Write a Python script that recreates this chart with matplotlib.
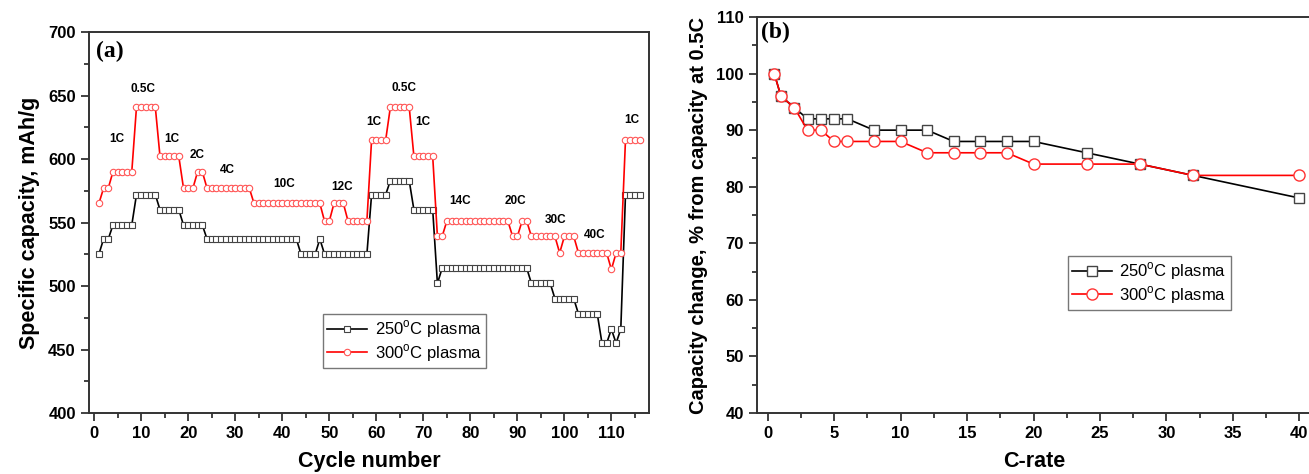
import numpy as np
from matplotlib import pyplot as plt
from matplotlib.ticker import MultipleLocator

plt.rcParams['font.family'] = ['Liberation Sans', 'DejaVu Sans']
plt.rcParams['mathtext.fontset'] = 'custom'
plt.rcParams['mathtext.rm'] = 'Liberation Sans'

# ---- data: panel (a), specific capacity vs cycle number ----
cycles = np.arange(1, 117)
cap_250 = [525, 537, 537, 548, 548, 548, 548, 548, 572, 572,
           572, 572, 572, 560, 560, 560, 560, 560, 548, 548,
           548, 548, 548, 537, 537, 537, 537, 537, 537, 537,
           537, 537, 537, 537, 537, 537, 537, 537, 537, 537,
           537, 537, 537, 525, 525, 525, 525, 537, 525, 525,
           525, 525, 525, 525, 525, 525, 525, 525, 572, 572,
           572, 572, 583, 583, 583, 583, 583, 560, 560, 560,
           560, 560, 502, 514, 514, 514, 514, 514, 514, 514,
           514, 514, 514, 514, 514, 514, 514, 514, 514, 514,
           514, 514, 502, 502, 502, 502, 502, 490, 490, 490,
           490, 490, 478, 478, 478, 478, 478, 455, 455, 466,
           455, 466, 572, 572, 572, 572]
cap_300 = [565, 577, 577, 590, 590, 590, 590, 590, 641, 641,
           641, 641, 641, 602, 602, 602, 602, 602, 577, 577,
           577, 590, 590, 577, 577, 577, 577, 577, 577, 577,
           577, 577, 577, 565, 565, 565, 565, 565, 565, 565,
           565, 565, 565, 565, 565, 565, 565, 565, 551, 551,
           565, 565, 565, 551, 551, 551, 551, 551, 615, 615,
           615, 615, 641, 641, 641, 641, 641, 602, 602, 602,
           602, 602, 539, 539, 551, 551, 551, 551, 551, 551,
           551, 551, 551, 551, 551, 551, 551, 551, 539, 539,
           551, 551, 539, 539, 539, 539, 539, 539, 526, 539,
           539, 539, 526, 526, 526, 526, 526, 526, 526, 513,
           526, 526, 615, 615, 615, 615]

# rate labels in panel (a): text, cycle, capacity
rate_labels = [('1C', 4.8, 616), ('0.5C', 10.4, 655), ('1C', 16.5, 616),
               ('2C', 21.9, 603), ('4C', 28.3, 591), ('10C', 40.4, 580),
               ('12C', 52.8, 578), ('1C', 59.5, 629), ('0.5C', 65.9, 656),
               ('1C', 70.0, 629), ('14C', 77.8, 567), ('20C', 89.5, 567),
               ('30C', 98.2, 552), ('40C', 106.5, 540), ('1C', 114.3, 631)]

# ---- data: panel (b), capacity change vs C-rate ----
c_rate = [0.5, 1, 2, 3, 4, 5, 6, 8, 10, 12, 14, 16, 18, 20, 24, 28, 32, 40]
change_250 = [100, 96, 94, 92, 92, 92, 92, 90, 90, 90, 88, 88, 88, 88, 86, 84, 82, 78]
change_300 = [100, 96, 94, 90, 90, 88, 88, 88, 88, 86, 86, 86, 86, 84, 84, 84, 82, 82]

W, H = 1309, 474
fig = plt.figure(figsize=(W / 100, H / 100), dpi=100)
ax1 = fig.add_axes([89 / W, 61 / H, 560 / W, 381 / H])
ax2 = fig.add_axes([757 / W, 61 / H, 555 / W, 396 / H])

spine_col = '#333333'


def style_axis(ax):
    for s in ax.spines.values():
        s.set_linewidth(1.4)
        s.set_color(spine_col)
    ax.tick_params(which='both', direction='out', color=spine_col, width=1.3,
                   top=False, right=False)
    ax.tick_params(which='major', length=6, labelsize=12)
    ax.tick_params(which='minor', length=3.5)
    for lab in ax.get_xticklabels() + ax.get_yticklabels():
        lab.set_fontweight('bold')


def add_legend(ax, anchor):
    leg = ax.legend(loc='lower left', bbox_to_anchor=anchor, fontsize=12,
                    frameon=True, fancybox=False, edgecolor='#555555',
                    handlelength=2.4, borderpad=0.25, labelspacing=0.12,
                    handletextpad=0.45, borderaxespad=0)
    leg.get_frame().set_linewidth(1.0)
    return leg


# panel (a)
ax1.plot(cycles, cap_250, color='black', lw=1.2, marker='s', ms=4.2,
         mfc='white', mec='#444444', mew=0.8, label='250$^{\\mathrm{o}}$C plasma')
ax1.plot(cycles, cap_300, color='red', lw=1.2, marker='o', ms=4.6,
         mfc='white', mec='#ff5555', mew=0.8, label='300$^{\\mathrm{o}}$C plasma')
for txt, cx, cy in rate_labels:
    ax1.text(cx, cy, txt, ha='center', va='center', fontsize=8.5, fontweight='bold')
ax1.set_xlim(-1.1, 118)
ax1.set_ylim(400, 700)
ax1.xaxis.set_major_locator(MultipleLocator(10))
ax1.xaxis.set_minor_locator(MultipleLocator(5))
ax1.yaxis.set_major_locator(MultipleLocator(50))
ax1.yaxis.set_minor_locator(MultipleLocator(25))
ax1.set_xlabel('Cycle number', fontsize=15.5, fontweight='bold', labelpad=7)
ax1.set_ylabel('Specific capacity, mAh/g', fontsize=15.5, fontweight='bold', labelpad=6)
ax1.text(0.012, 0.978, '(a)', transform=ax1.transAxes, ha='left', va='top',
         fontsize=17, fontweight='bold', family='Liberation Serif')
style_axis(ax1)
add_legend(ax1, (0.418, 0.118))

# panel (b)
ax2.plot(c_rate, change_250, color='black', lw=1.2, marker='s', ms=7.5,
         mfc='white', mec='#444444', mew=1.0, label='250$^{\\mathrm{o}}$C plasma')
ax2.plot(c_rate, change_300, color='red', lw=1.2, marker='o', ms=8,
         mfc='white', mec='#ff3333', mew=1.0, label='300$^{\\mathrm{o}}$C plasma')
ax2.set_xlim(-0.8, 40.95)
ax2.set_ylim(40, 110)
ax2.xaxis.set_major_locator(MultipleLocator(5))
ax2.xaxis.set_minor_locator(MultipleLocator(2.5))
ax2.yaxis.set_major_locator(MultipleLocator(10))
ax2.yaxis.set_minor_locator(MultipleLocator(5))
ax2.set_xlabel('C-rate', fontsize=15.5, fontweight='bold', labelpad=7)
ax2.set_ylabel('Capacity change, % from capacity at 0.5C', fontsize=14.5,
               fontweight='bold', labelpad=6)
ax2.text(0.008, 0.988, '(b)', transform=ax2.transAxes, ha='left', va='top',
         fontsize=17, fontweight='bold', family='Liberation Serif')
style_axis(ax2)
add_legend(ax2, (0.56, 0.26))

fig.savefig('out.png', dpi=100)
